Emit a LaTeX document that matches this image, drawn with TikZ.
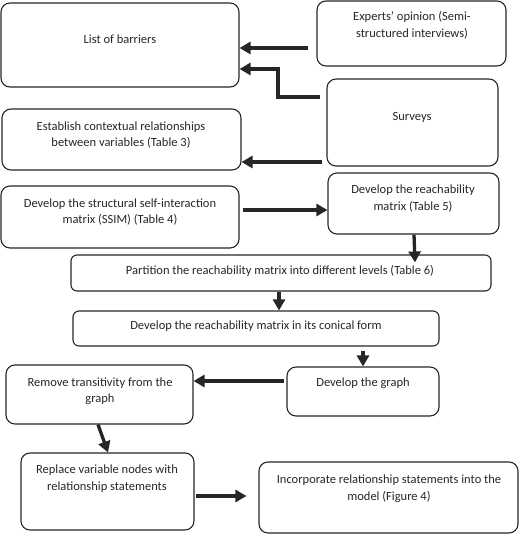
\documentclass[tikz,border=0pt]{standalone}
\usepackage{fontspec}
\setmainfont{Carlito}
\usetikzlibrary{arrows.meta,calc}
\begin{document}
\begin{tikzpicture}[x=1pt,y=-1pt,
  box/.style={draw=black!85, line width=1.1pt, rounded corners=9pt, inner sep=0pt},
  txt/.style={align=center, font=\fontsize{12.5}{16.5}\selectfont, text=black!85, inner sep=0pt},
  arr/.style={line width=3.3pt, draw=black!85, -{Triangle[length=11pt,width=12pt]}}]
\useasboundingbox (0,0) rectangle (520,534);
% boxes
\node[box, minimum width=238pt, minimum height=84pt] (lob) at (120,45) {};
\node[box, minimum width=189pt, minimum height=65pt] (exp) at (411.5,33.5) {};
\node[box, minimum width=171pt, minimum height=87pt] (sur) at (412.5,122.5) {};
\node[box, minimum width=239pt, minimum height=61pt] (est) at (121.5,139.5) {};
\node[box, minimum width=238pt, minimum height=62pt] (ssim) at (120,217) {};
\node[box, minimum width=171pt, minimum height=61pt] (rch) at (413.5,203.5) {};
\node[box, rounded corners=6pt, minimum width=420pt, minimum height=36pt] (par) at (281,273) {};
\node[box, rounded corners=6pt, minimum width=366pt, minimum height=35pt] (con) at (256,328.5) {};
\node[box, minimum width=152pt, minimum height=49pt] (gra) at (363,391.5) {};
\node[box, minimum width=187pt, minimum height=59pt] (rem) at (99.5,394.5) {};
\node[box, minimum width=173pt, minimum height=77pt] (rep) at (107.5,491.5) {};
\node[box, minimum width=259pt, minimum height=71pt] (inc) at (388.5,497.5) {};
% texts
\node[txt] (tlob) at (120,39) {List of barriers};
\node[txt] (texp) at (412,25.5) {Experts’ opinion (Semi-\\structured interviews)};
\node[txt] (tsur) at (412,117) {Surveys};
\node[txt] (test) at (121,135) {Establish contextual relationships\\between variables (Table 3)};
\node[txt] (tssim) at (120,212) {Develop the structural self-interaction\\matrix (SSIM) (Table 4)};
\node[txt] (trch) at (413,198.5) {Develop the reachability\\matrix (Table 5)};
\node[txt] (tpar) at (280,271) {Partition the reachability matrix into different levels (Table 6)};
\node[txt] (tcon) at (256,326) {Develop the reachability matrix in its conical form};
\node[txt] (tgra) at (363,383) {Develop the graph};
\node[txt] (trem) at (100,391) {Remove transitivity from the\\graph};
\node[txt] (trep) at (107,478.5) {Replace variable nodes with\\relationship statements};
\node[txt] (tinc) at (389,488.5) {Incorporate relationship statements into the\\model (Figure 4)};
% arrows
\draw[arr] ($(exp.west |- 0,48)+(-8,0)$) -- (lob.east |- 0,48);
\draw[arr] ($(sur.west |- 0,97)+(-6,0)$) -- (278,97) -- (278,69) -- (lob.east |- 0,69);
\draw[arr] ($(sur.west |- 0,162)+(-4,0)$) -- (est.east |- 0,162);
\draw[arr] ($(ssim.east |- 0,210)+(3,0)$) -- (rch.west |- 0,210);
\draw[arr] (rch.south -| 414,0) -- ($(par.north -| 415,0)+(0,8)$);
\draw[arr] (par.south -| 279,0) -- (con.north -| 279,0);
\draw[arr] ($(con.south -| 363,0)+(0,4)$) -- (gra.north -| 363,0);
\draw[arr] ($(gra.west |- 0,381)+(-2,0)$) -- (rem.east |- 0,381);
\draw[arr] (rem.south -| 98,0) -- (rep.north -| 108,0);
\draw[arr] ($(rep.east |- 0,496)+(1,0)$) -- ($(inc.west |- 0,496)+(-12,0)$);
\end{tikzpicture}
\end{document}
